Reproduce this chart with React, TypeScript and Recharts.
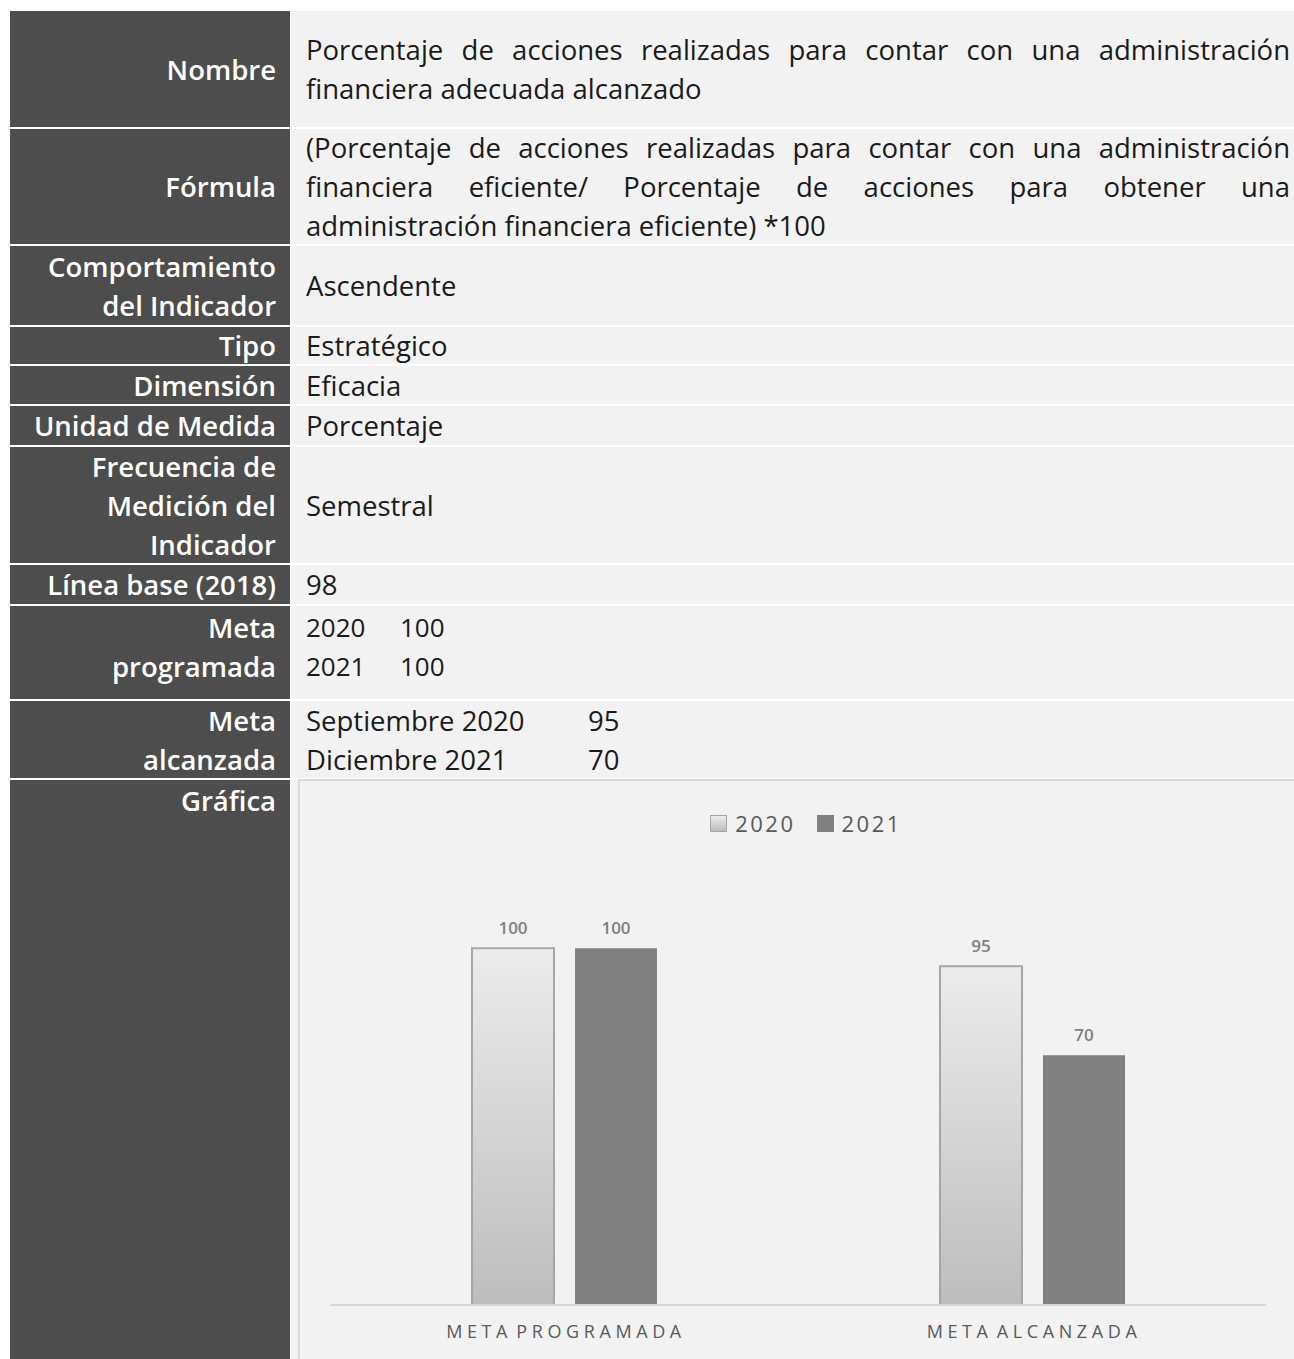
import React from "react";
import { BarChart, Bar, XAxis, YAxis, Legend, LabelList } from "recharts";

// chart values
const categories = ["META PROGRAMADA", "META ALCANZADA"];
const seriesNames = ["2020", "2021"];
const values2020 = [100, 95];
const values2021 = [100, 70];

const chartData = categories.map((name, i) => ({
  name,
  y2020: values2020[i],
  y2021: values2021[i],
}));

// table texts
const nombreLines = [
  "Porcentaje de acciones realizadas para contar con una administración",
  "financiera adecuada alcanzado",
];
const formulaLines = [
  "(Porcentaje de acciones realizadas para contar con una administración",
  "financiera eficiente/ Porcentaje de acciones para obtener una",
  "administración financiera eficiente) *100",
];
const metaProgramada = [
  ["2020", "100"],
  ["2021", "100"],
];
const metaAlcanzada = [
  ["Septiembre 2020", "95"],
  ["Diciembre 2021", "70"],
];

const FONT = "'Open Sans', 'Noto Sans', sans-serif";
const DARK = "#4d4d4d";
const LIGHT = "#f2f2f2";

const Justified = ({ lines }: { lines: string[] }) => (
  <div>
    {lines.map((l, i) => (
      <div
        key={i}
        style={{
          textAlign: "justify",
          textAlignLast: i < lines.length - 1 ? "justify" : "left",
          whiteSpace: "nowrap",
        }}
      >
        {l}
      </div>
    ))}
  </div>
);

const TwoCol = ({ rows, col, size }: { rows: string[][]; col: number; size?: number }) => (
  <div style={{ fontSize: size }}>
    {rows.map((r, i) => (
      <div key={i} style={{ display: "flex" }}>
        <span style={{ width: col }}>{r[0]}</span>
        <span>{r[1]}</span>
      </div>
    ))}
  </div>
);

const CategoryTick = (props: any) => {
  const { x, y, payload } = props;
  return (
    <text
      x={x + 2}
      y={y + 33}
      textAnchor="middle"
      fill="#595959"
      fontSize={18}
      letterSpacing={4.6}
      wordSpacing={-5}
      fontFamily={FONT}
    >
      {payload.value}
    </text>
  );
};

const swatch = [
  {
    background: "linear-gradient(#ececec, #bdbdbd)",
    border: "1.5px solid #a6a6a6",
  },
  { background: "#808080", border: "1.5px solid #808080" },
];

const renderLegend = () => (
  <div
    style={{
      display: "flex",
      justifyContent: "center",
      gap: 21,
      fontFamily: FONT,
      fontSize: 22,
      letterSpacing: 2.5,
      color: "#595959",
      lineHeight: "24px",
      paddingLeft: 18,
    }}
  >
    {seriesNames.map((s, i) => (
      <div key={s} style={{ display: "flex", alignItems: "center" }}>
        <span
          style={{
            display: "inline-block",
            width: 15,
            height: 15,
            marginRight: 8,
            boxSizing: "content-box",
            ...swatch[i],
          }}
        />
        <span>{s}</span>
      </div>
    ))}
  </div>
);

const Chart = () => (
  <BarChart
    width={994}
    height={578}
    data={chartData}
    margin={{ top: 96, right: 28, bottom: 14, left: 30 }}
    barSize={82}
    barGap={21}
  >
    <defs>
      <linearGradient id="g2020" x1="0" y1="0" x2="0" y2="1">
        <stop offset="0%" stopColor="#ececec" />
        <stop offset="100%" stopColor="#bdbdbd" />
      </linearGradient>
    </defs>
    <XAxis
      dataKey="name"
      axisLine={{ stroke: "#d9d9d9", strokeWidth: 2 }}
      tickLine={false}
      tickSize={0}
      tickMargin={0}
      height={40}
      tick={<CategoryTick />}
    />
    <YAxis hide domain={[0, 120]} />
    <Legend
      verticalAlign="middle"
      align="center"
      content={renderLegend}
      wrapperStyle={{ top: 30, left: 0, width: 994 }}
    />
    <Bar
      dataKey="y2020"
      name={seriesNames[0]}
      fill="url(#g2020)"
      stroke="#a6a6a6"
      strokeWidth={2}
      isAnimationActive={false}
    >
      <LabelList
        dataKey="y2020"
        position="top"
        offset={14}
        fill="#7f7f7f"
        fontSize={17}
        fontWeight={600}
        fontFamily={FONT}
      />
    </Bar>
    <Bar dataKey="y2021" name={seriesNames[1]} fill="#808080" isAnimationActive={false}>
      <LabelList
        dataKey="y2021"
        position="top"
        offset={14}
        fill="#7f7f7f"
        fontSize={17}
        fontWeight={600}
        fontFamily={FONT}
      />
    </Bar>
  </BarChart>
);

type Row = {
  top: number;
  height: number;
  label: string[];
  content: React.ReactNode;
  align?: "center" | "flex-start";
  pad?: number;
};

const rows: Row[] = [
  { top: 11, height: 116, label: ["Nombre"], content: <Justified lines={nombreLines} /> },
  { top: 129, height: 115, label: ["Fórmula"], content: <Justified lines={formulaLines} /> },
  { top: 246, height: 79, label: ["Comportamiento", "del Indicador"], content: "Ascendente" },
  { top: 327, height: 37, label: ["Tipo"], content: "Estratégico" },
  { top: 366, height: 38, label: ["Dimensión"], content: "Eficacia" },
  { top: 406, height: 39, label: ["Unidad de Medida"], content: "Porcentaje" },
  { top: 447, height: 116, label: ["Frecuencia de", "Medición del", "Indicador"], content: "Semestral" },
  { top: 565, height: 39, label: ["Línea base (2018)"], content: "98" },
  {
    top: 606,
    height: 93,
    label: ["Meta", "programada"],
    content: <TwoCol rows={metaProgramada} col={94} size={26} />,
    align: "flex-start",
    pad: 2,
  },
  {
    top: 701,
    height: 77,
    label: ["Meta", "alcanzada"],
    content: <TwoCol rows={metaAlcanzada} col={282} />,
  },
];

export default function App() {
  return (
    <div
      style={{
        position: "absolute",
        left: 0,
        top: 0,
        width: 1294,
        height: 1359,
        background: "#ffffff",
        fontFamily: FONT,
        fontSize: 27.5,
        lineHeight: "39px",
        overflow: "hidden",
      }}
    >
      {rows.map((r, i) => (
        <React.Fragment key={i}>
          <div
            style={{
              position: "absolute",
              left: 10,
              top: r.top,
              width: 280,
              height: r.height,
              background: DARK,
              color: "#ffffff",
              fontWeight: 600,
              textAlign: "right",
              display: "flex",
              flexDirection: "column",
              justifyContent: r.align || "center",
              alignItems: "flex-end",
              paddingRight: 14,
              paddingTop: r.pad || 0,
              boxSizing: "border-box",
            }}
          >
            {r.label.map((l, j) => (
              <div key={j} style={{ whiteSpace: "nowrap" }}>
                {l}
              </div>
            ))}
          </div>
          <div
            style={{
              position: "absolute",
              left: 291,
              top: r.top,
              width: 1003,
              height: r.height,
              background: LIGHT,
              color: "#1a1a1a",
              display: "flex",
              flexDirection: "column",
              justifyContent: r.align || "center",
              paddingLeft: 15,
              paddingRight: 4,
              paddingTop: r.pad || 0,
              boxSizing: "border-box",
            }}
          >
            {r.content}
          </div>
        </React.Fragment>
      ))}
      {/* Gráfica row */}
      <div
        style={{
          position: "absolute",
          left: 10,
          top: 780,
          width: 280,
          height: 579,
          background: DARK,
          color: "#ffffff",
          fontWeight: 600,
          textAlign: "right",
          paddingRight: 14,
          paddingTop: 1,
          boxSizing: "border-box",
        }}
      >
        Gráfica
      </div>
      <div
        style={{
          position: "absolute",
          left: 291,
          top: 780,
          width: 1003,
          height: 579,
          background: LIGHT,
        }}
      />
      <div
        style={{
          position: "absolute",
          left: 298,
          top: 779,
          width: 996,
          height: 580,
          background: LIGHT,
          borderLeft: "2px solid #d9d9d9",
          borderTop: "2px solid #d9d9d9",
          boxSizing: "border-box",
        }}
      >
        <Chart />
      </div>
    </div>
  );
}
